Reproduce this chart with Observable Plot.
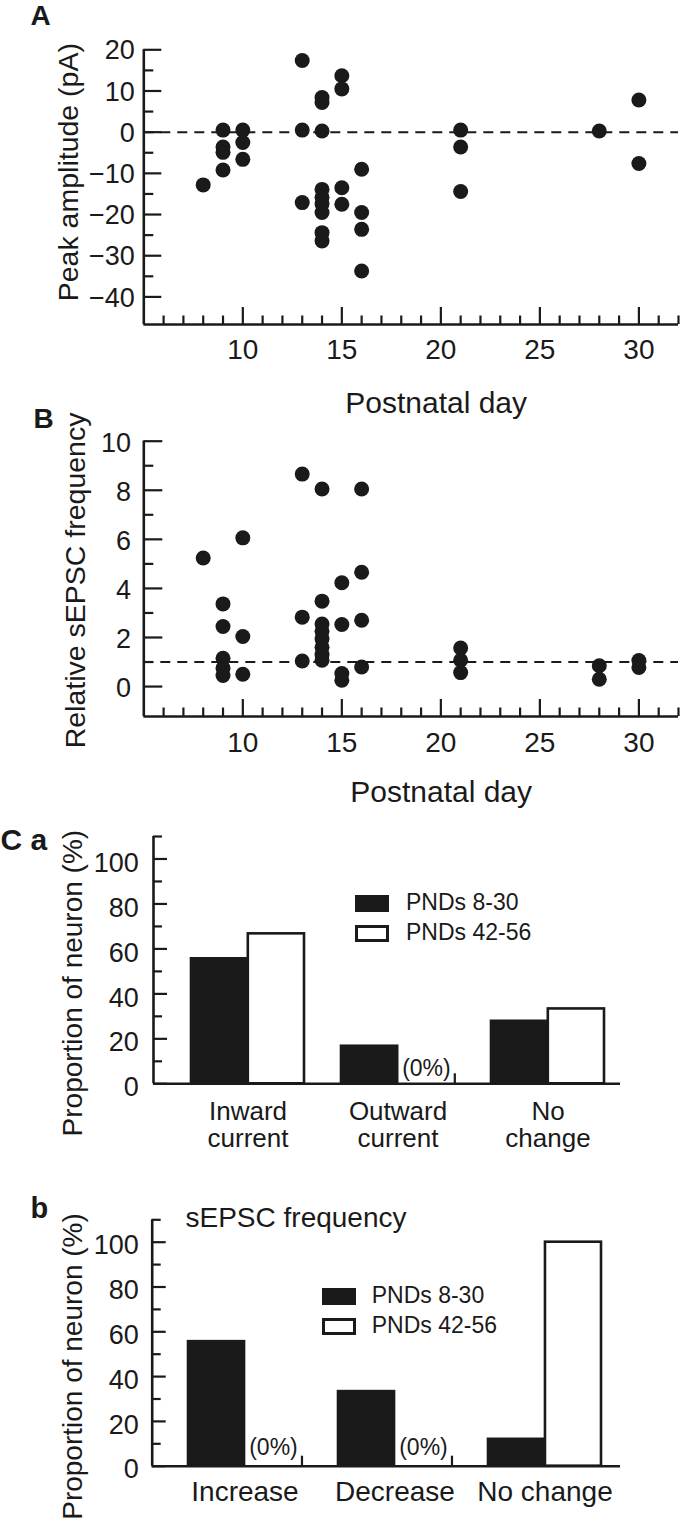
<!DOCTYPE html>
<html>
<head>
<meta charset="utf-8">
<script src="https://cdn.jsdelivr.net/npm/d3@7"></script>
<script src="https://cdn.jsdelivr.net/npm/@observablehq/plot@0.6"></script>
<style>
  html, body { margin: 0; padding: 0; background: #ffffff; }
  #chart { position: relative; width: 683px; height: 1522px; overflow: hidden;
           font-family: "Liberation Sans", Arial, Helvetica, sans-serif; color: #1a1a1a; }
  #chart svg { position: absolute; left: 0; }
  .sw { position: absolute; box-sizing: border-box; width: 34px; height: 17px; border: 3px solid #1a1a1a; }
  .lg { position: absolute; font-size: 23px; line-height: 23px; white-space: nowrap; }
</style>
</head>
<body>
<div id="chart"></div>
<script>
// ---------------- DATA ----------------
// Panel A: peak amplitude vs postnatal day
const daysA = [8, 9, 9, 9, 9, 10, 10, 10, 13, 13, 13,
  14, 14, 14, 14, 14, 14, 14, 14, 14, 15, 15, 15, 15,
  16, 16, 16, 16, 21, 21, 21, 28, 30, 30];
const peakA = [-12.8, 0.5, -3.6, -4.9, -9.2, 0.5, -2.5, -6.6, 17.4, 0.5, -17.1,
  8.4, 7.2, 0.3, -13.9, -15.8, -17.4, -19.5, -24.4, -26.4, 13.7, 10.5, -13.5, -17.5,
  -9.0, -19.5, -23.6, -33.7, 0.5, -3.6, -14.4, 0.3, 7.8, -7.6];

// Panel B: relative sEPSC frequency vs postnatal day
const daysB = [8, 9, 9, 9, 9, 9, 10, 10, 10, 13, 13, 13,
  14, 14, 14, 14, 14, 14, 14, 14, 15, 15, 15, 15,
  16, 16, 16, 16, 21, 21, 21, 28, 28, 30, 30];
const freqB = [5.24, 3.37, 2.45, 1.15, 0.75, 0.45, 6.06, 2.04, 0.5, 8.66, 2.83, 1.04,
  8.05, 3.48, 2.55, 2.25, 1.95, 1.6, 1.3, 1.07, 4.23, 2.53, 0.53, 0.26,
  8.05, 4.66, 2.7, 0.8, 1.57, 1.07, 0.57, 0.85, 0.3, 1.06, 0.78];

const dayDomain = [5, 32];
const dayMajorTicks = [10, 15, 20, 25, 30];
const dayMinorTicks = [6, 7, 8, 9, 11, 12, 13, 14, 16, 17, 18, 19, 21, 22, 23, 24, 26, 27, 28, 29, 31, 32];
const peakDomain = [-46.7, 20];
const peakMajorTicks = [-40, -30, -20, -10, 0, 10, 20];
const peakMinorTicks = [-35, -25, -15, -5, 5, 15];
const peakReference = 0;
const freqDomain = [-1.22, 10];
const freqMajorTicks = [0, 2, 4, 6, 8, 10];
const freqMinorTicks = [1, 3, 5, 7, 9];
const freqReference = 1;

// Panel C: proportions of neurons (%)
const groups = ["PNDs 8-30", "PNDs 42-56"];
const groupColors = ["#1a1a1a", "#ffffff"];
const currentCategories = ["Inward current", "Outward current", "No change"];
const currentYoung = [55.6, 16.7, 27.8];
const currentAdult = [66.7, 0, 33.3];
const freqCategories = ["Increase", "Decrease", "No change"];
const freqYoung = [55.6, 33.3, 12];
const freqAdult = [0, 0, 100];
const pctDomain = [0, 110];
const pctMajorTicks = [0, 20, 40, 60, 80, 100];
const pctMinorTicks = [10, 30, 50, 70, 90, 110];

// ---------------- RENDERING ----------------
const INK = "#1a1a1a";
const FONT = '"Liberation Sans", Arial, Helvetica, sans-serif';
const W = 683;
const chart = document.getElementById("chart");

function place(svg, top) {
  svg.style.top = top + "px";
  chart.appendChild(svg);
}

function scatter(o) {
  const fw = W - o.ml - o.mr, fh = o.height - o.mt - o.mb;
  const pts = o.days.map((d, i) => ({day: d, value: o.values[i]}));
  const svg = Plot.plot({
    width: W, height: o.height,
    marginTop: o.mt, marginBottom: o.mb, marginLeft: o.ml, marginRight: o.mr,
    x: {domain: dayDomain},
    y: {domain: o.yDomain},
    style: {fontFamily: FONT, color: INK, background: "transparent", overflow: "visible"},
    marks: [
      Plot.ruleY([o.ref], {stroke: INK, strokeWidth: 2, strokeDasharray: "10,7"}),
      Plot.ruleY(o.yMajor, {stroke: INK, strokeWidth: 2.2, insetRight: fw - o.yMajorLen}),
      Plot.ruleY(o.yMinor, {stroke: INK, strokeWidth: 2.2, insetRight: fw - o.yMinorLen}),
      Plot.ruleX(dayMajorTicks, {stroke: INK, strokeWidth: 2.2, insetTop: fh - 17}),
      Plot.ruleX(dayMinorTicks, {stroke: INK, strokeWidth: 2.2, insetTop: fh - 8.5}),
      Plot.ruleX([dayDomain[0]], {stroke: INK, strokeWidth: 2.6}),
      Plot.ruleY([o.yDomain[0]], {stroke: INK, strokeWidth: 2.6}),
      Plot.dot(pts, {x: "day", y: "value", r: 7.5, fill: INK, stroke: null}),
      Plot.axisY(o.yMajor, {tickSize: 0, tickPadding: o.yPad, dy: o.yDy, fontSize: 27, label: null}),
      Plot.axisX(dayMajorTicks, {tickSize: 0, tickPadding: o.xPad, fontSize: 28, label: null}),
      Plot.text(["Postnatal day"], {frameAnchor: "bottom", textAnchor: "middle", lineAnchor: "top", dx: o.xlDx, dy: o.xlDy, fontSize: 30, fill: INK}),
      Plot.text([o.yLabel], {frameAnchor: "left", textAnchor: "middle", lineAnchor: "middle", rotate: -90, dx: o.ylDx, dy: o.ylDy, fontSize: o.ylSize, fill: INK}),
      Plot.text([o.letter], {frameAnchor: "top-left", textAnchor: "start", lineAnchor: "top", dx: o.lDx, dy: o.lDy, fontSize: 28, fontWeight: "bold", fill: INK})
    ]
  });
  place(svg, o.top);
}

function bars(o) {
  const fw = W - o.ml - o.mr;
  const pi = 0.245, po = 0.174;
  const bw = d3.scaleBand().domain(o.cats).range([o.ml, W - o.mr])
    .paddingInner(pi).paddingOuter(po).align(o.align).bandwidth();
  const rows = o.cats.flatMap((c, i) => [
    {category: c, group: groups[0], value: o.young[i]},
    {category: c, group: groups[1], value: o.adult[i]}
  ]);
  const zeroRows = rows.filter(r => r.value === 0);
  const marks = [
    Plot.barY(rows.filter(r => r.group === groups[0]), {x: "category", y: "value", fill: "group", stroke: INK, strokeWidth: 2.6, insetRight: bw / 2}),
    Plot.barY(rows.filter(r => r.group === groups[1]), {x: "category", y: "value", fill: "group", stroke: INK, strokeWidth: 2.6, insetLeft: bw / 2}),
    Plot.ruleX(zeroRows, {x: "category", y1: 0, y2: 0, dx: bw / 2, insetTop: -10, stroke: INK, strokeWidth: 2.2}),
    Plot.text(zeroRows, {x: "category", y: "value", text: d => `(${d.value}%)`, dx: bw / 4, dy: o.zeroDy, fontSize: 23, fill: INK}),
    Plot.ruleY(pctMajorTicks, {stroke: INK, strokeWidth: 2.2, insetRight: fw - 14}),
    Plot.ruleY(pctMinorTicks, {stroke: INK, strokeWidth: 2.2, insetRight: fw - 9}),
    Plot.ruleY([pctDomain[0]], {stroke: INK, strokeWidth: 2.6}),
    Plot.ruleX(["y axis"], {x: null, dx: -fw / 2, stroke: INK, strokeWidth: 2.6}),
    Plot.axisY(pctMajorTicks, {tickSize: 0, tickPadding: o.yPad, dy: o.yDy, fontSize: 27, label: null}),
    Plot.axisX(o.cats, {tickSize: 0, tickPadding: o.xPad, fontSize: o.xSize, lineHeight: 1.05, label: null,
      tickFormat: o.wrap ? (d => d.replace(" ", "\n")) : (d => d)}),
    Plot.text(["Proportion of neuron (%)"], {frameAnchor: "left", textAnchor: "middle", lineAnchor: "middle", rotate: -90, dx: o.ylDx, dy: o.ylDy, fontSize: 28, fill: INK}),
    Plot.text([o.letter], {frameAnchor: "top-left", textAnchor: "start", lineAnchor: "top", dx: o.lDx, dy: o.lDy, fontSize: o.lSize, fontWeight: "bold", fill: INK})
  ];
  if (o.title) {
    marks.push(Plot.text([o.title], {frameAnchor: "top-left", textAnchor: "start", lineAnchor: "top", dx: o.tDx, dy: o.tDy, fontSize: 28, fill: INK}));
  }
  const svg = Plot.plot({
    width: W, height: o.height,
    marginTop: o.mt, marginBottom: o.mb, marginLeft: o.ml, marginRight: o.mr,
    x: {domain: o.cats, paddingInner: pi, paddingOuter: po, align: o.align},
    y: {domain: pctDomain},
    color: {domain: groups, range: groupColors},
    style: {fontFamily: FONT, color: INK, background: "transparent", overflow: "visible"},
    marks
  });
  place(svg, o.top);
  // legend (HTML, placed over the panel)
  groups.forEach((g, i) => {
    const sw = document.createElement("div");
    sw.className = "sw";
    sw.style.left = o.leg.sx + "px";
    sw.style.top = (o.leg.sy + i * 30) + "px";
    sw.style.background = groupColors[i];
    chart.appendChild(sw);
    const tx = document.createElement("div");
    tx.className = "lg";
    tx.style.left = o.leg.tx + "px";
    tx.style.top = (o.leg.ty + i * 30) + "px";
    tx.textContent = g;
    chart.appendChild(tx);
  });
}

scatter({
  top: 0, height: 390, mt: 49.3, mb: 66, ml: 143.3, mr: 5,
  days: daysA, values: peakA, yDomain: peakDomain, yMajor: peakMajorTicks, yMinor: peakMinorTicks,
  ref: peakReference, yMajorLen: 18, yMinorLen: 10,
  yPad: 9, yDy: 1, xPad: 15, xlDx: 25, xlDy: 67,
  yLabel: "Peak amplitude (pA)", ylDx: -74.6, ylDy: -15, ylSize: 28.5,
  letter: "A", lDx: -113.3, lDy: -44.3
});

scatter({
  top: 390, height: 425, mt: 50.7, mb: 99, ml: 143.3, mr: 5,
  days: daysB, values: freqB, yDomain: freqDomain, yMajor: freqMajorTicks, yMinor: freqMinorTicks,
  ref: freqReference, yMajorLen: 19, yMinorLen: 10,
  yPad: 12.7, yDy: 1.8, xPad: 15.8, xlDx: 30, xlDy: 64.5,
  yLabel: "Relative sEPSC frequency", ylDx: -67.6, ylDy: 1.6, ylSize: 28.5,
  letter: "B", lDx: -110.3, lDy: -32.7
});

bars({
  top: 815, height: 345, mt: 21, mb: 76.7, ml: 153, mr: 63, align: 0.71,
  cats: currentCategories, young: currentYoung, adult: currentAdult, wrap: true,
  yPad: 14.7, yDy: 4, xPad: 16.7, xSize: 26, zeroDy: -15,
  ylDx: -80, ylDy: 23,
  letter: "C a", lDx: -153, lDy: -8, lSize: 30,
  leg: {sx: 355, sy: 895, tx: 406, ty: 891.2}
});

bars({
  top: 1160, height: 362, mt: 59.3, mb: 56.3, ml: 151.7, mr: 63, align: 0.66,
  cats: freqCategories, young: freqYoung, adult: freqAdult, wrap: false,
  yPad: 13.4, yDy: 3.5, xPad: 14.3, xSize: 28, zeroDy: -19,
  ylDx: -78.7, ylDy: 23.5,
  letter: "b", lDx: -121.7, lDy: -22.6, lSize: 29,
  title: "sEPSC frequency", tDx: 33.3, tDy: -12.6,
  leg: {sx: 321.7, sy: 1287.7, tx: 371.7, ty: 1283.5}
});
</script>
</body>
</html>
